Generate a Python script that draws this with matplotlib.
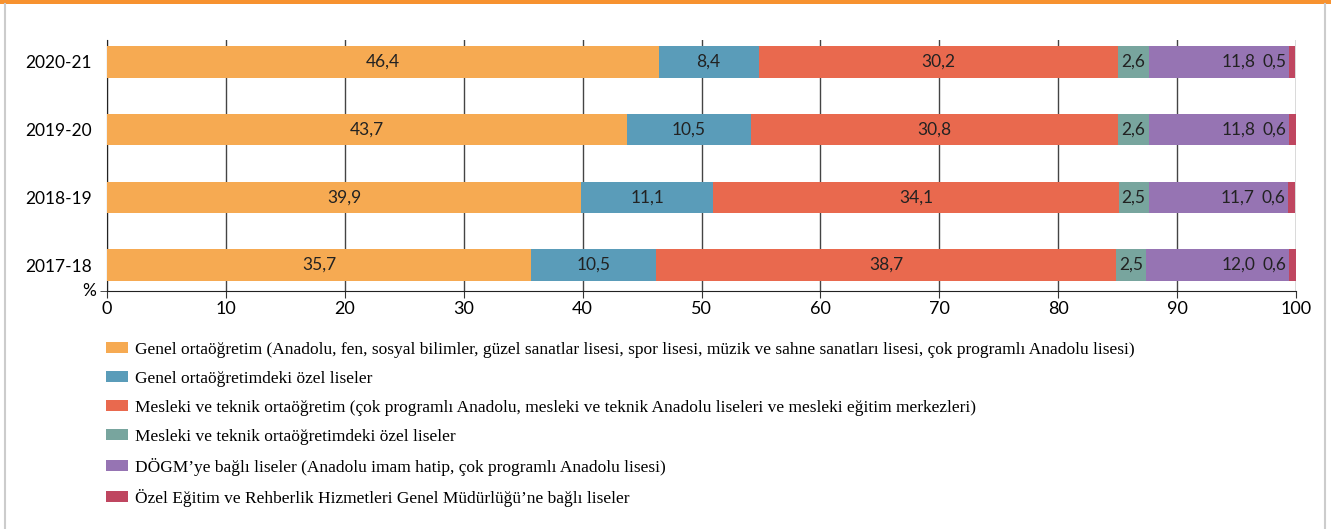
import matplotlib.pyplot as plt
from matplotlib.patches import Patch, Rectangle
from matplotlib.lines import Line2D
import numpy as np

# veriler (%)
yillar = ["2017-18", "2018-19", "2019-20", "2020-21"]
genel = [35.7, 39.9, 43.7, 46.4]
genel_ozel = [10.5, 11.1, 10.5, 8.4]
mesleki = [38.7, 34.1, 30.8, 30.2]
mesleki_ozel = [2.5, 2.5, 2.6, 2.6]
dogm = [12.0, 11.7, 11.8, 11.8]
ozel_egitim = [0.6, 0.6, 0.6, 0.5]

seriler = [genel, genel_ozel, mesleki, mesleki_ozel, dogm, ozel_egitim]
renkler = ["#F6AA52", "#5A9CB9", "#E9694E", "#78A59E", "#9674B3", "#BF4660"]
etiketler = [
    "Genel ortaöğretim (Anadolu, fen, sosyal bilimler, güzel sanatlar lisesi, spor lisesi, müzik ve sahne sanatları lisesi, çok programlı Anadolu lisesi)",
    "Genel ortaöğretimdeki özel liseler",
    "Mesleki ve teknik ortaöğretim (çok programlı Anadolu, mesleki ve teknik Anadolu liseleri ve mesleki eğitim merkezleri)",
    "Mesleki ve teknik ortaöğretimdeki özel liseler",
    "DÖGM’ye bağlı liseler (Anadolu imam hatip, çok programlı Anadolu lisesi)",
    "Özel Eğitim ve Rehberlik Hizmetleri Genel Müdürlüğü’ne bağlı liseler",
]

sans = ["Lato", "DejaVu Sans"]
serif = ["Liberation Serif", "DejaVu Serif"]

def virgul(v):
    return f"{v:.1f}".replace(".", ",")

fig = plt.figure(figsize=(13.31, 5.29), dpi=100)
ax = fig.add_axes([107 / 1331, 1 - 291 / 529, (1296 - 107) / 1331, (291 - 40) / 529])

y = np.arange(len(yillar))
sol = np.zeros(len(yillar))
for i, (seri, renk) in enumerate(zip(seriler, renkler)):
    seri = np.array(seri)
    ax.barh(y, seri, left=sol, height=0.46, color=renk, zorder=3)
    for j in range(len(yillar)):
        if i == 4:
            # mor etiket biraz sağa kaydırılmış
            ax.text(sol[j] + seri[j] - 4.2, y[j], virgul(seri[j]), ha="center", va="center",
                    fontsize=12.5, family=sans, color="#222222", zorder=4)
        elif i == 5:
            ax.text(sol[j] - 0.2, y[j], virgul(seri[j]), ha="right", va="center",
                    fontsize=12.5, family=sans, color="#222222", zorder=4)
        else:
            ax.text(sol[j] + seri[j] / 2, y[j], virgul(seri[j]), ha="center", va="center",
                    fontsize=12.5, family=sans, color="#222222", zorder=4)
    sol = sol + seri

ax.set_xlim(0, 100)
ax.set_ylim(-0.384, 3.325)
ax.set_xticks(range(0, 101, 10))
ax.set_xticklabels([str(t) for t in range(0, 101, 10)], family=sans, fontsize=13)
ax.set_yticks(y)
ax.set_yticklabels(yillar, family=sans, fontsize=12.5)
ax.tick_params(axis="y", length=0, pad=11)
ax.tick_params(axis="x", length=5, direction="out", color="#333333", pad=2)
ax.grid(axis="x", color="#444444", linewidth=1, zorder=0)
ax.set_axisbelow(True)
for s in ["top", "right"]:
    ax.spines[s].set_visible(False)
ax.spines["left"].set_color("#222222")
ax.spines["bottom"].set_color("#222222")
ax.set_yticks([-0.384], minor=True)
ax.tick_params(axis="y", which="minor", length=5, color="#333333")
ax.text(-0.9, -0.384, "%", ha="right", va="center", fontsize=12.5, family=sans,
        transform=ax.transData)

# lejant
tutamaklar = [Patch(facecolor=r, edgecolor="none") for r in renkler]
fig.legend(tutamaklar, etiketler, loc="upper left", bbox_to_anchor=(99 / 1331, 1 - 335 / 529),
           frameon=False, ncol=1, prop={"family": serif, "size": 12.5}, handlelength=1.25,
           handleheight=0.6, handletextpad=0.45, labelspacing=0.75, borderaxespad=0)

# çerçeve
fig.add_artist(Rectangle((0, 1 - 4 / 529), 1, 4 / 529, transform=fig.transFigure,
                         facecolor="#F7922F", edgecolor="none"))
fig.add_artist(Line2D([5 / 1331, 5 / 1331], [0, 1 - 4 / 529], transform=fig.transFigure,
                      color="#CCCCCC", linewidth=1.5))
fig.add_artist(Line2D([1325 / 1331, 1325 / 1331], [0, 1 - 4 / 529], transform=fig.transFigure,
                      color="#CCCCCC", linewidth=1.5))

fig.savefig("out.png", dpi=100)
